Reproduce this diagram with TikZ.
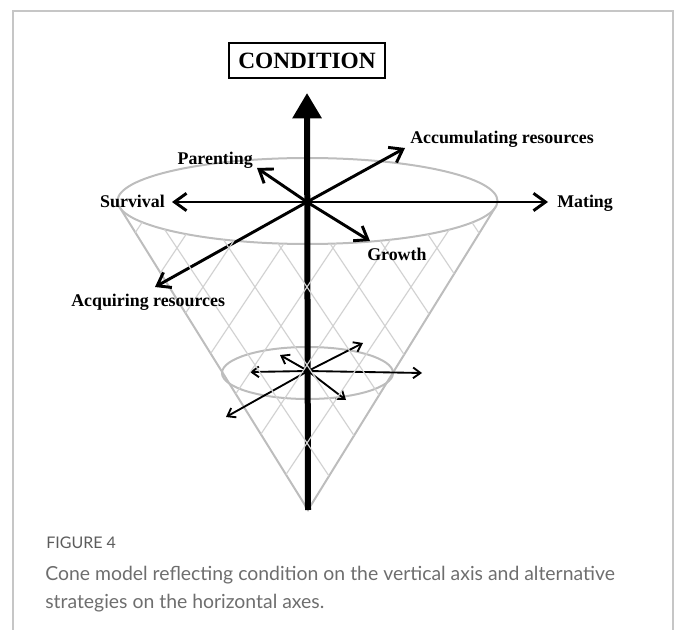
\documentclass[tikz,border=0pt]{standalone}
\usepackage{fontspec}
\setmainfont{Liberation Serif}
\newfontfamily\captionfont{Lato}
\usetikzlibrary{arrows.meta,positioning}

\definecolor{coneGray}{HTML}{BDBDBD}
\definecolor{netGray}{HTML}{D2D2D2}
\definecolor{frameGray}{HTML}{C6C6C6}
\definecolor{captionGray}{HTML}{6E6E6E}
\definecolor{figGray}{HTML}{5C5C5C}

\def \axisWidth {4.5pt}
\def \bigWidth {2.2pt}
\def \smallWidth {1.4pt}

\begin{document}
\begin{tikzpicture}[x=0.75pt, y=-0.75pt,
      axislabel/.style={font=\bfseries\fontsize{13.4}{16}\selectfont, inner sep=0pt},
      bigarrow/.style={line width=\bigWidth, -{Straight Barb[length=9pt,width=13pt]}},
      smallarrow/.style={line width=\smallWidth, -{Straight Barb[length=5.5pt,width=8pt]}},
      conepart/.style={draw=coneGray, line width=1.5pt},
      captiontext/.style={anchor=base west, inner sep=0pt, text=captionGray}]
         \useasboundingbox (0,0) rectangle (677,630);
         \draw[frameGray, line width=1.1pt] (13,630) -- (13,11) -- (673,11) -- (673,630);

         \coordinate (apex) at (308,510);
         \coordinate (coneL) at (119.5,207);
         \coordinate (coneR) at (495.5,207);
         \coordinate (topC) at (307.5,201);
         \coordinate (lowC) at (307.5,373);
         \coordinate (O) at (307,202);
         \coordinate (L) at (308,371);
         \coordinate (axisTop) at (307,93);

         \draw[conepart] (topC) ellipse [x radius=190, y radius=43];
         \draw[conepart] (lowC) ellipse [x radius=85.5, y radius=26];
         \draw[conepart] (coneL) -- (apex) -- (coneR);

         \node[draw, line width=1.6pt, minimum width=117pt, minimum height=26pt,
               font=\bfseries\fontsize{17.5}{20}\selectfont] (condition) at (307,60.5) {CONDITION};
         \draw[line width=\axisWidth, -{Triangle[length=19pt,width=21pt]}] (apex) -- (axisTop);

         \coordinate (survTip) at (172,202);
         \coordinate (mateTip) at (548,202);
         \coordinate (parTip) at (257,168);
         \coordinate (accTip) at (405,148);
         \coordinate (growTip) at (370,241);
         \coordinate (acqTip) at (155,287);
         \foreach \tip in {survTip, mateTip, parTip, accTip, growTip, acqTip}
            \draw[bigarrow] (O) -- (\tip);

         \coordinate (sSurv) at (250,372);
         \coordinate (sMate) at (422,373);
         \coordinate (sPar) at (280,355);
         \coordinate (sAcc) at (363,343);
         \coordinate (sGrow) at (346,400);
         \coordinate (sAcq) at (226,417);
         \foreach \tip in {sSurv, sMate, sPar, sAcc, sGrow, sAcq}
            \draw[smallarrow] (L) -- (\tip);

         \begin{scope}
            \clip (coneR) -- plot[domain=8:172, samples=40] ({307.5+190*cos(\x)}, {201+43*sin(\x)}) -- (apex) -- cycle;
            \foreach \k in {-5,...,6} {
               \pgfmathsetmacro{\yk}{287+78*\k}
               \draw[netGray, line width=0.9pt] ({307+(150-\yk)/1.5},150) -- ({307+(520-\yk)/1.5},520);
               \draw[netGray, line width=0.9pt] ({307-(150-\yk)/1.5},150) -- ({307-(520-\yk)/1.5},520);
            }
         \end{scope}

         \node[axislabel, anchor=base east] (survival) at (165,208) {Survival};
         \node[axislabel, anchor=base west] (mating) at (557,208) {Mating};
         \node[axislabel, anchor=base east] (parenting) at (253,165) {Parenting};
         \node[axislabel, anchor=base west] (accumulating) at (410,144) {Accumulating resources};
         \node[axislabel, anchor=base west] (growth) at (367,261) {Growth};
         \node[axislabel, anchor=base west] (acquiring) at (71,307) {Acquiring resources};

         \node[captiontext, text=figGray, font=\captionfont\fontsize{12}{14}\selectfont] (figNo) at (46,548) {FIGURE 4};
         \node[captiontext, font=\captionfont\fontsize{14.55}{17}\selectfont] (captionA) at (45,580) {Cone model reflecting condition on the vertical axis and alternative};
         \node[captiontext, font=\captionfont\fontsize{14.55}{17}\selectfont] (captionB) at (45,608) {strategies on the horizontal axes.};
      \end{tikzpicture}
\end{document}
